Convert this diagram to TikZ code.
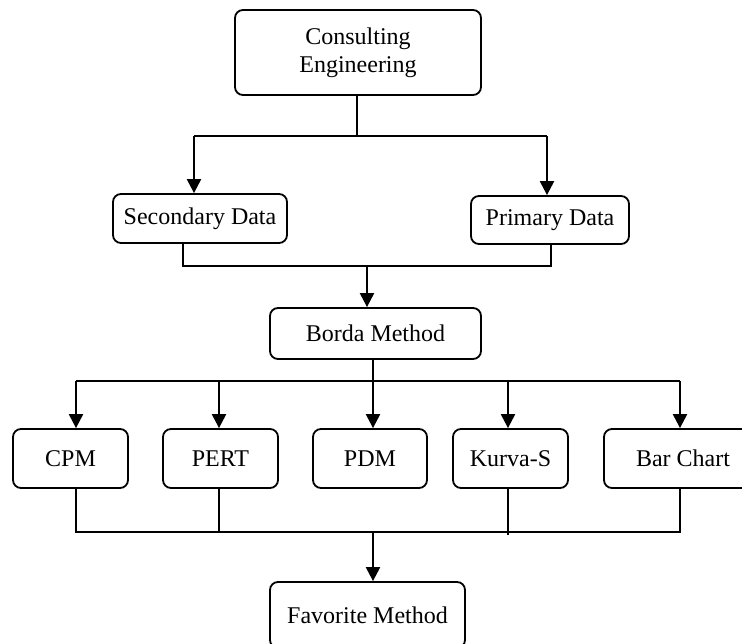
\documentclass[tikz,border=0pt]{standalone}
\usepackage{fontspec}
\setmainfont{Liberation Serif}
\usetikzlibrary{arrows.meta}

\begin{document}
\begin{tikzpicture}
    [
    x=1pt,y=-1pt,
    box/.style={draw,rounded corners=8pt,line width=1.8pt,inner sep=0pt,align=center,font=\fontsize{24}{28}\selectfont},
    arr/.style={-{Triangle[length=14pt,width=14pt]},line width=2.2pt},
    link/.style={line width=1.8pt},
    ]
    \useasboundingbox (0,0) rectangle (742,643);

    \node (ce) at (358,52.5) [box,minimum width=246pt,minimum height=85pt] {Consulting\\Engineering};
    \node (sec) at (200,218.5) [box,minimum width=174pt,minimum height=49pt] {Secondary Data};
    \node (pri) at (550,220) [box,minimum width=158pt,minimum height=48pt] {Primary Data};
    \node (borda) at (375.5,333.5) [box,minimum width=211pt,minimum height=51pt] {Borda Method};
    \node (cpm) at (70.5,458.5) [box,minimum width=115pt,minimum height=59pt] {CPM};
    \node (pert) at (220.5,458.5) [box,minimum width=115pt,minimum height=59pt] {PERT};
    \node (pdm) at (370,458.5) [box,minimum width=114pt,minimum height=59pt] {PDM};
    \node (kurva) at (510.5,458.5) [box,minimum width=115pt,minimum height=59pt] {Kurva-S};
    \node (bar) at (683,458.5) [box,minimum width=158pt,minimum height=59pt] {Bar Chart};
    \node (fav) at (367.5,615) [box,minimum width=195pt,minimum height=66pt] {Favorite Method};

    \coordinate (s1) at (357,136);
    \coordinate (s1l) at (194,136);
    \coordinate (s1r) at (547,136);
    \draw [link] (ce.south -| s1) to (s1);
    \draw [link] (s1l) to (s1r);
    \draw [arr] (s1l) to (s1l |- sec.north);
    \draw [arr] (s1r) to (s1r |- pri.north);

    \coordinate (s2) at (367,266);
    \coordinate (s2l) at (183,266);
    \coordinate (s2r) at (551,266);
    \draw [link] (s2l |- sec.south) to (s2l) to (s2r) to (s2r |- pri.south);
    \draw [arr] (s2) to (s2 |- borda.north);

    \coordinate (s3) at (373,381);
    \coordinate (a1) at (76,381);
    \coordinate (a2) at (219,381);
    \coordinate (a4) at (508,381);
    \coordinate (a5) at (680,381);
    \draw [link] (borda.south -| s3) to (s3);
    \draw [link] (a1) to (a5);
    \draw [arr] (a1) to (a1 |- cpm.north);
    \draw [arr] (a2) to (a2 |- pert.north);
    \draw [arr] (s3) to (s3 |- pdm.north);
    \draw [arr] (a4) to (a4 |- kurva.north);
    \draw [arr] (a5) to (a5 |- bar.north);

    \coordinate (s4) at (373,532);
    \coordinate (b1) at (76,532);
    \coordinate (b2) at (219,532);
    \coordinate (b4) at (508,532);
    \coordinate (b5) at (680,532);
    \draw [link] (b1 |- cpm.south) to (b1) to (b5) to (b5 |- bar.south);
    \draw [link,line width=1.3pt] (b2 |- pert.south) to (b2);
    \draw [link,line width=1.3pt] (b4 |- kurva.south) to ([yshift=-3pt]b4);
    \draw [arr] (s4) to (s4 |- fav.north);
\end{tikzpicture}
\end{document}
